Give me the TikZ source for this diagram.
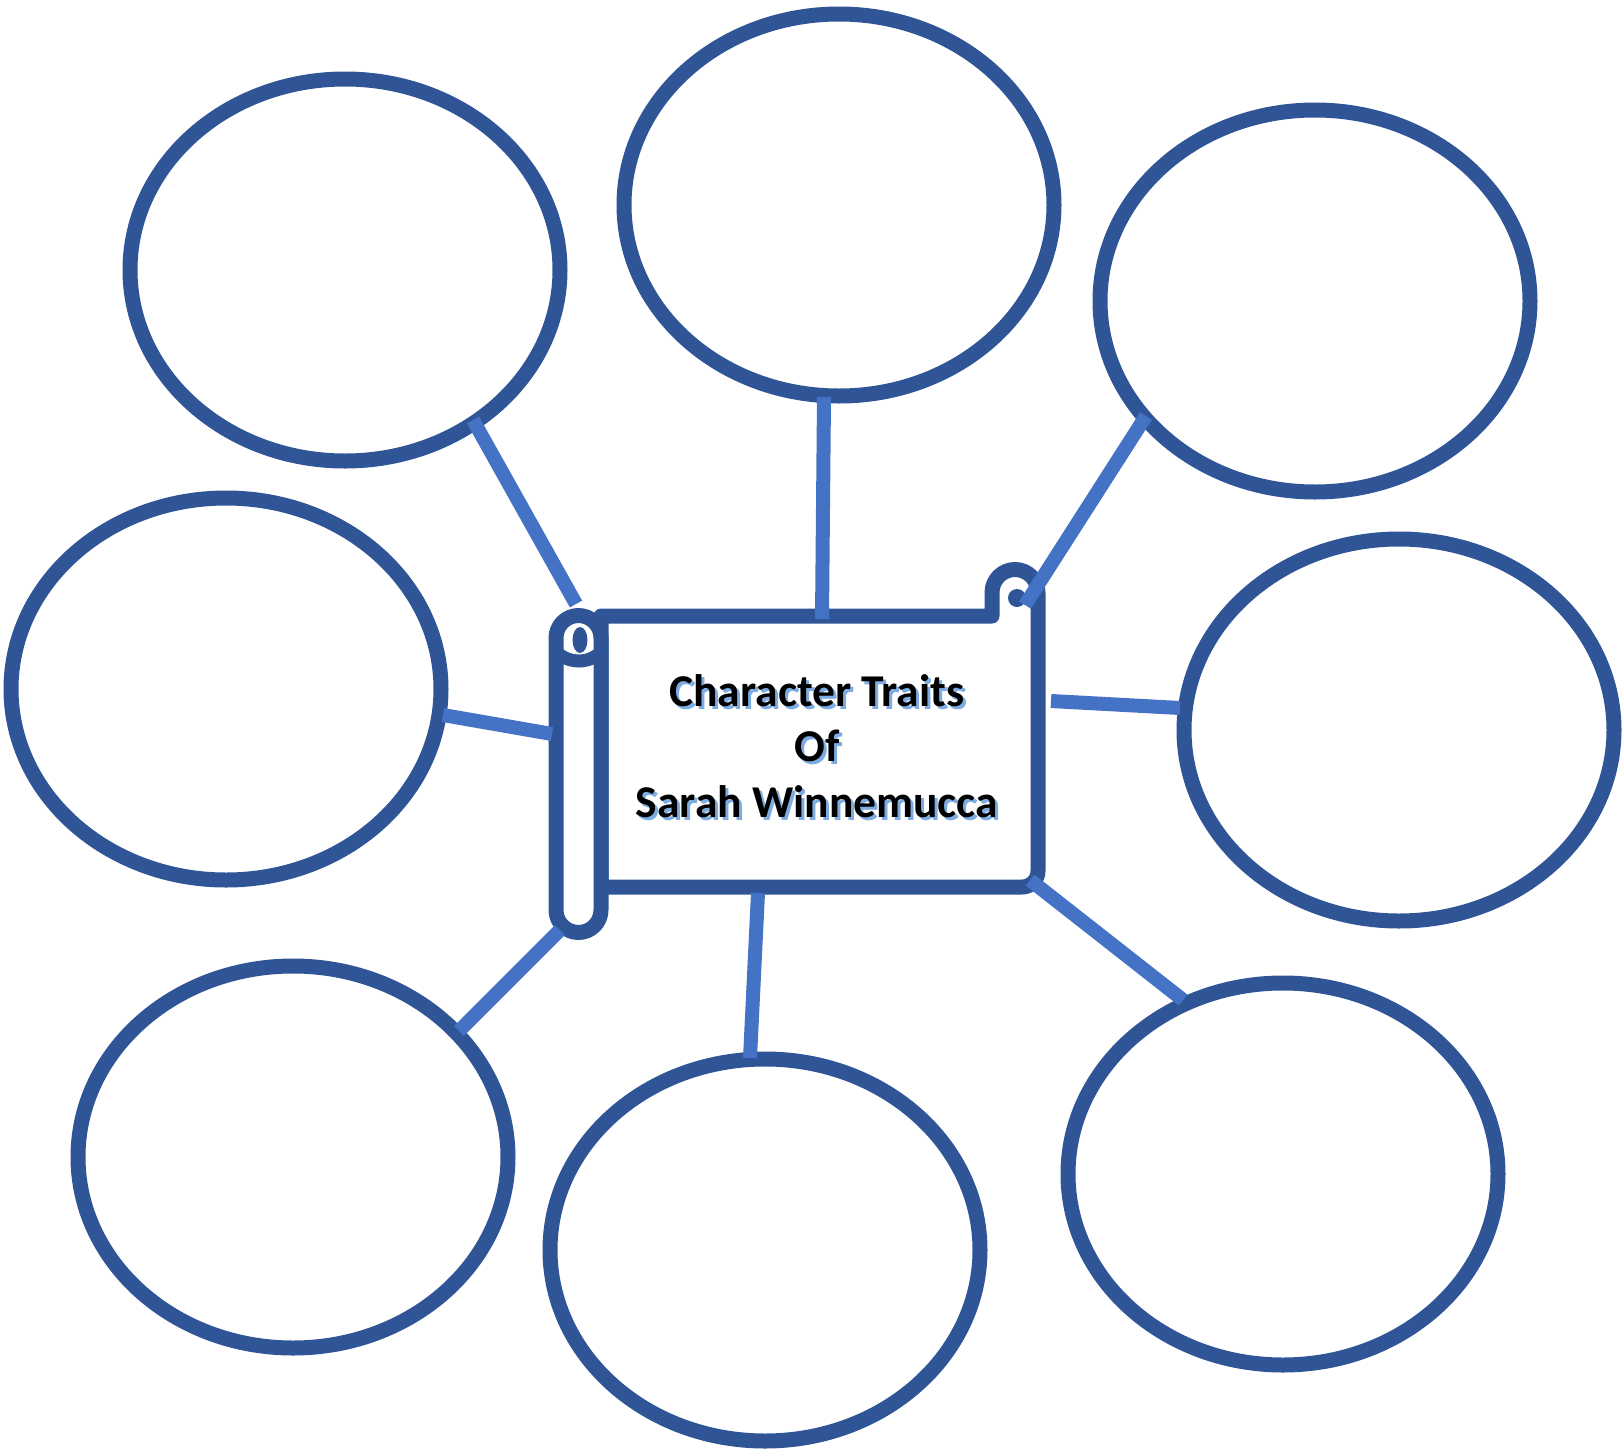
\documentclass[tikz,border=0pt]{standalone}
\usepackage{fontspec}
\setmainfont{Carlito}
\usetikzlibrary{shapes.geometric}
\definecolor{ringblue}{RGB}{47,85,151}
\definecolor{linkblue}{RGB}{68,114,196}
\definecolor{glowblue}{RGB}{125,172,226}
\tikzset{
  trait/.style={ellipse, draw=ringblue, line width=15pt, fill=white,
    minimum width=430pt, minimum height=382pt, inner sep=0pt},
  link/.style={draw=linkblue, line width=14pt},
  scrollline/.style={draw=ringblue, line width=15pt, fill=white, line join=round},
  title/.style={font=\bfseries\fontsize{45.5}{55}\selectfont, anchor=base, inner sep=0pt},
}
\begin{document}
\begin{tikzpicture}[x=1pt, y=-1pt]
\useasboundingbox (0,0) rectangle (1623,1449);

% trait ellipses
\node[trait] (e1) at (345,270) {};
\node[trait] (e2) at (839,205) {};
\node[trait] (e3) at (1315,301) {};
\node[trait] (e4) at (226,689) {};
\node[trait] (e5) at (1399,730) {};
\node[trait] (e6) at (293,1157) {};
\node[trait] (e7) at (765,1250) {};
\node[trait] (e8) at (1283,1174) {};

% scroll sheet with the curl at the top right
\path[scrollline] (601,616) -- (992,616) -- (992,592.5)
  arc[start angle=180, end angle=360, radius=23] -- (1038,871)
  arc[start angle=0, end angle=90, radius=16] -- (601,887) -- cycle;
\fill[ringblue] (1017,598) circle[radius=9];

% rolled edge on the left
\path[scrollline] (556,638) arc[start angle=180, end angle=360, radius=22.5]
  -- (601,910) arc[start angle=0, end angle=180, radius=22.5] -- cycle;
\draw[ringblue, line width=13pt] (556,652) .. controls (570,664) and (588,664) .. (601,652);
\fill[ringblue] (580,640) ellipse[x radius=7.5, y radius=13];

% title with its soft blue shadow
\node[title, glowblue] (s1) at (820,709) {Character Traits};
\node[title, glowblue] (s2) at (820,764) {Of};
\node[title, glowblue] (s3) at (820,820) {Sarah Winnemucca};
\node[title] (t1) at (817,706) {Character Traits};
\node[title] (t2) at (817,761) {Of};
\node[title] (t3) at (817,817) {Sarah Winnemucca};

% connector end points
\coordinate (a1) at (473,420);  \coordinate (b1) at (576,604);
\coordinate (a2) at (824,397);  \coordinate (b2) at (822,619);
\coordinate (a3) at (1146,416); \coordinate (b3) at (1025,605);
\coordinate (a4) at (443,715);  \coordinate (b4) at (552,734);
\coordinate (a5) at (1180,708); \coordinate (b5) at (1051,701);
\coordinate (a6) at (459,1031); \coordinate (b6) at (560,930);
\coordinate (a7) at (750,1058); \coordinate (b7) at (758,893);
\coordinate (a8) at (1183,1000);\coordinate (b8) at (1030,880);

\foreach \i in {1,...,8} {\draw[link] (a\i) -- (b\i);}
\end{tikzpicture}
\end{document}
